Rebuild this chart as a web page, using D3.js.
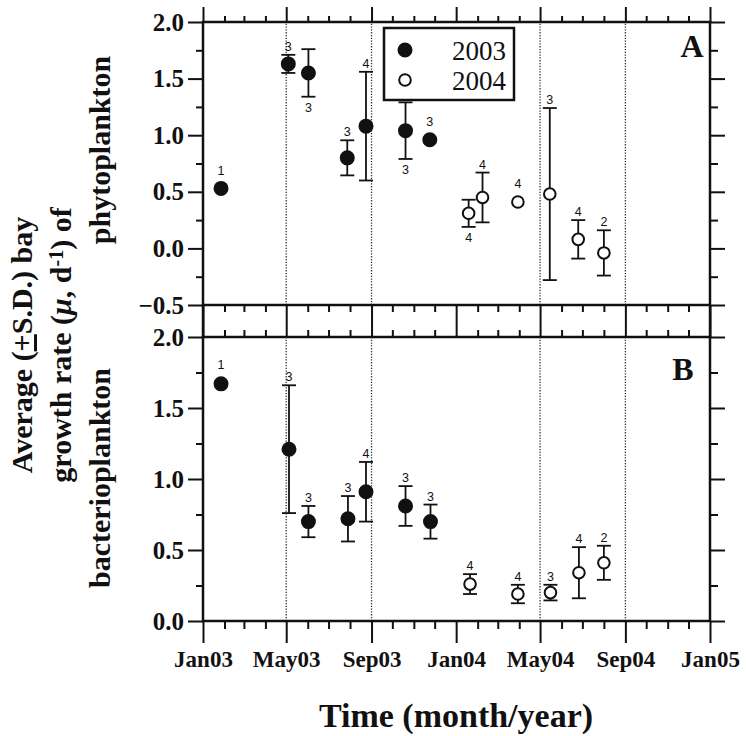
<!DOCTYPE html>
<html>
<head>
<meta charset="utf-8">
<script src="https://cdn.jsdelivr.net/npm/d3@7/dist/d3.min.js"></script>
<style>
  body { margin: 0; background: #fff; }
  text { fill: #111; }
</style>
</head>
<body>
<svg id="chart" width="746" height="736"></svg>
<script>
// ---- data ----
// panel A : phytoplankton
var datesA = ["2003-01-27","2003-05-04","2003-06-02","2003-07-28","2003-08-24","2003-10-20","2003-11-24",
              "2004-01-19","2004-02-08","2004-03-30","2004-05-15","2004-06-25","2004-08-01"];
var yearA  = [2003,2003,2003,2003,2003,2003,2003,2004,2004,2004,2004,2004,2004];
var meanA  = [0.53,1.63,1.55,0.80,1.08,1.04,0.96,0.31,0.45,0.41,0.48,0.08,-0.04];
var sdA    = [0,0.08,0.21,0.155,0.48,0.25,0.03,0.12,0.22,0.03,0.76,0.17,0.20];
var nA     = [1,3,3,3,4,3,3,4,4,4,3,4,2];
var nSideA = ["up","up","down","up","up","down","up","down","up","up","up","up","up"];

// panel B : bacterioplankton
var datesB = ["2003-01-27","2003-05-05","2003-06-02","2003-07-29","2003-08-24","2003-10-20","2003-11-25",
              "2004-01-21","2004-03-30","2004-05-16","2004-06-26","2004-08-01"];
var yearB  = [2003,2003,2003,2003,2003,2003,2003,2004,2004,2004,2004,2004];
var meanB  = [1.67,1.21,0.70,0.72,0.91,0.81,0.70,0.26,0.19,0.20,0.34,0.41];
var sdB    = [0,0.45,0.11,0.16,0.21,0.14,0.12,0.07,0.065,0.055,0.18,0.12];
var nB     = [1,3,3,3,4,3,3,4,4,3,4,2];

var refDates = ["2003-05-01","2003-09-01","2004-05-01","2004-09-01"];
var yTicksA = [-0.5,0.0,0.5,1.0,1.5,2.0];
var yTicksB = [0.0,0.5,1.0,1.5,2.0];
var legendYears = [2003, 2004];

var parse = d3.timeParse("%Y-%m-%d");
var serif = "'Liberation Serif', 'Times New Roman', serif";
var sans = "'Liberation Sans', Arial, sans-serif";

var svg = d3.select("#chart");

var left = 203, right = 710;
var x = d3.scaleTime()
    .domain([new Date(2003,0,1), new Date(2005,0,1)])
    .range([left, right]);

var yA = d3.scaleLinear().domain([-0.5, 2.0]).range([305, 22]);
var yB = d3.scaleLinear().domain([0, 2.0]).range([621, 337]);

var majorMonths = d3.timeMonth.every(4).range(new Date(2003,0,1), new Date(2005,0,2));
var minorMonths = d3.timeMonth.range(new Date(2003,0,1), new Date(2005,0,2))
    .filter(function(d) { return d.getMonth() % 4 !== 0; });

function quarterTicks(domain) {
  var out = [];
  for (var v = domain[0]; v <= domain[1] + 1e-9; v += 0.25) out.push(+v.toFixed(2));
  return out.filter(function(v) { return Math.abs(v * 2 - Math.round(v * 2)) > 1e-6; });
}

function drawAxis(axis, tx, ty) {
  var g = svg.append("g").attr("transform", "translate(" + tx + "," + ty + ")").call(axis);
  g.select(".domain").remove();
  g.selectAll(".tick line").attr("stroke", "#111").attr("stroke-width", 2);
  return g;
}

function xTicks(yPos, dir, majLen, minLen, labels) {
  var mk = dir === "top" ? d3.axisTop : d3.axisBottom;
  drawAxis(mk(x).tickValues(minorMonths).tickSize(minLen).tickFormat(""), 0, yPos);
  var g = drawAxis(mk(x).tickValues(majorMonths).tickSize(majLen).tickPadding(8)
      .tickFormat(labels ? d3.timeFormat("%b%y") : ""), 0, yPos);
  g.selectAll("text")
    .attr("font-family", serif).attr("font-weight", "bold")
    .attr("font-size", 23).attr("fill", "#111");
}

function yTicks(y, majors, labels) {
  var minors = quarterTicks(y.domain());
  drawAxis(d3.axisLeft(y).tickValues(minors).tickSize(7).tickFormat(""), left, 0);
  var g = drawAxis(d3.axisLeft(y).tickValues(majors).tickSize(15).tickPadding(4)
      .tickFormat(d3.format(".1f")), left, 0);
  g.selectAll("text")
    .attr("font-family", serif).attr("font-weight", "bold")
    .attr("font-size", 25).attr("fill", "#111");
  drawAxis(d3.axisRight(y).tickValues(minors).tickSize(8).tickFormat(""), right, 0);
  drawAxis(d3.axisRight(y).tickValues(majors).tickSize(15).tickFormat(""), right, 0);
}

// reference dotted lines
[yA, yB].forEach(function(y) {
  svg.append("g").selectAll("line").data(refDates).enter().append("line")
    .attr("x1", function(d) { return x(parse(d)); })
    .attr("x2", function(d) { return x(parse(d)); })
    .attr("y1", y.range()[0]).attr("y2", y.range()[1])
    .attr("stroke", "#333").attr("stroke-width", 1.3)
    .attr("stroke-dasharray", "1.3,1.5");
});

// ticks
xTicks(22, "top", 15, 6, false);
xTicks(305, "bottom", 16, 7, false);
xTicks(337, "top", 16, 7, false);
xTicks(621, "bottom", 22, 8, true);
yTicks(yA, yTicksA);
yTicks(yB, yTicksB);

// frames
svg.append("rect").attr("x", left).attr("y", 22).attr("width", right - left).attr("height", 305 - 22)
  .attr("fill", "none").attr("stroke", "#111").attr("stroke-width", 2.5);
svg.append("rect").attr("x", left).attr("y", 337).attr("width", right - left).attr("height", 621 - 337)
  .attr("fill", "none").attr("stroke", "#111").attr("stroke-width", 2.5);
svg.append("line").attr("x1", left).attr("x2", left).attr("y1", 305).attr("y2", 337)
  .attr("stroke", "#111").attr("stroke-width", 2.5);
svg.append("line").attr("x1", right).attr("x2", right).attr("y1", 305).attr("y2", 337)
  .attr("stroke", "#111").attr("stroke-width", 2.5);

// points with error bars and n labels
function drawSeries(dates, years, means, sds, ns, sides, y) {
  var rows = dates.map(function(d, i) {
    return { date: parse(d), year: years[i], mean: means[i], sd: sds[i], n: ns[i],
             side: sides ? sides[i] : "up" };
  });
  var g = svg.append("g");
  var bars = rows.filter(function(d) { return d.sd > 0.05; });
  g.selectAll(".bar").data(bars).enter().append("line")
    .attr("x1", function(d) { return x(d.date); }).attr("x2", function(d) { return x(d.date); })
    .attr("y1", function(d) { return y(d.mean + d.sd); })
    .attr("y2", function(d) { return y(d.mean - d.sd); })
    .attr("stroke", "#111").attr("stroke-width", 1.8);
  ["top", "bot"].forEach(function(k) {
    g.selectAll(".cap" + k).data(bars).enter().append("line")
      .attr("x1", function(d) { return x(d.date) - 7; }).attr("x2", function(d) { return x(d.date) + 7; })
      .attr("y1", function(d) { return y(k === "top" ? d.mean + d.sd : d.mean - d.sd); })
      .attr("y2", function(d) { return y(k === "top" ? d.mean + d.sd : d.mean - d.sd); })
      .attr("stroke", "#111").attr("stroke-width", 1.8);
  });
  g.selectAll(".pt").data(rows).enter().append("circle")
    .attr("cx", function(d) { return x(d.date); })
    .attr("cy", function(d) { return y(d.mean); })
    .attr("r", function(d) { return d.year === 2003 ? 6.5 : 5.8; })
    .attr("fill", function(d) { return d.year === 2003 ? "#111" : "#fff"; })
    .attr("stroke", "#111").attr("stroke-width", 2);
  g.selectAll(".nlab").data(rows).enter().append("text")
    .attr("x", function(d) { return x(d.date); })
    .attr("y", function(d) {
      var ext = Math.max(d.sd, 0.05);
      if (d.side === "up") return y(d.mean + ext) - 4 - (d.sd > 0.05 ? 0 : 4);
      return y(d.mean - ext) + 15;
    })
    .attr("text-anchor", "middle")
    .attr("font-family", sans).attr("font-size", 12.5)
    .text(function(d) { return d.n; });
}
drawSeries(datesA, yearA, meanA, sdA, nA, nSideA, yA);
drawSeries(datesB, yearB, meanB, sdB, nB, null, yB);

// legend
svg.append("rect").attr("x", 384).attr("y", 28).attr("width", 130).attr("height", 72)
  .attr("fill", "#fff").attr("stroke", "#111").attr("stroke-width", 2.5);
var leg = svg.append("g").selectAll("g").data(legendYears).enter().append("g")
  .attr("transform", function(d, i) { return "translate(405," + (50 + i * 30) + ")"; });
leg.append("circle").attr("r", function(d) { return d === 2003 ? 6.5 : 5.8; })
  .attr("fill", function(d) { return d === 2003 ? "#111" : "#fff"; })
  .attr("stroke", "#111").attr("stroke-width", 2);
leg.append("text").attr("x", 47).attr("y", 10)
  .attr("font-family", serif).attr("font-size", 27).text(function(d) { return d; });

// panel letters
svg.append("text").attr("x", 692).attr("y", 57).attr("text-anchor", "middle")
  .attr("font-family", serif).attr("font-weight", "bold").attr("font-size", 32).text("A");
svg.append("text").attr("x", 683).attr("y", 380).attr("text-anchor", "middle")
  .attr("font-family", serif).attr("font-weight", "bold").attr("font-size", 32).text("B");

// axis titles
svg.append("text").attr("x", 456).attr("y", 727).attr("text-anchor", "middle")
  .attr("font-family", serif).attr("font-weight", "bold").attr("font-size", 34)
  .text("Time (month/year)");

function yTitle(cx, cy) {
  return svg.append("text").attr("transform", "translate(" + cx + "," + cy + ") rotate(-90)")
    .attr("text-anchor", "middle")
    .attr("font-family", serif).attr("font-weight", "bold").attr("font-size", 30);
}
var t1 = yTitle(32, 345);
t1.append("tspan").text("Average (");
t1.append("tspan").attr("text-decoration", "underline").text("+");
t1.append("tspan").text("S.D.) bay");
var t2 = yTitle(71, 345);
t2.append("tspan").text("growth rate (");
t2.append("tspan").attr("font-style", "italic").text("\u03bc");
t2.append("tspan").text(", d");
t2.append("tspan").attr("font-size", 20).attr("dy", -8).text("-1");
t2.append("tspan").attr("dy", 8).text(") of");
yTitle(110, 150).text("phytoplankton");
yTitle(110, 478).text("bacterioplankton");
</script>
</body>
</html>
